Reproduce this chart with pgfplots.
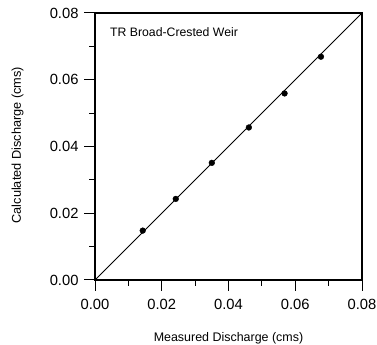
\documentclass[border=0pt]{standalone}
\usepackage{fontspec}
\setmainfont{Liberation Sans}
\usepackage{pgfplots}
\pgfplotsset{compat=1.18}
\begin{document}
\begin{tikzpicture}
\begin{axis}[
  width=267bp, height=267bp, scale only axis,
  xmin=0, xmax=0.08, ymin=0, ymax=0.08,
  xtick={0,0.02,0.04,0.06,0.08}, ytick={0,0.02,0.04,0.06,0.08},
  minor tick num=1,
  tick pos=left, tick align=outside,
  major tick length=11bp, minor tick length=6bp,
  axis line style={line width=1.1bp},
  every tick/.style={black, line width=1bp},
  /pgf/number format/assume math mode=true,
  /pgf/number format/.cd, fixed, fixed zerofill, precision=2, /pgfplots/.cd,
  scaled ticks=false,
  ticklabel style={font=\fontsize{14.8}{17}\selectfont},
  xticklabel style={yshift=-5bp},
  yticklabel style={xshift=-2bp},
  xlabel={Measured Discharge (cms)},
  ylabel={Calculated Discharge (cms)},
  xlabel style={font=\fontsize{12.5}{14}\selectfont, at={(axis description cs:0.5,-0.217)}, anchor=center},
  ylabel style={font=\fontsize{12.8}{14}\selectfont, at={(axis description cs:-0.290,0.505)}, anchor=center},
]
\addplot[black, line width=1bp, mark=none] coordinates {(0,0) (0.08,0.08)};
\addplot[only marks, mark=*, mark size=2.9pt, black] coordinates {
(0.0143,0.0148)
(0.0242,0.0243)
(0.0350,0.0351)
(0.0461,0.0457)
(0.0568,0.0559)
(0.0677,0.0669)
};
\node[anchor=west, font=\fontsize{12.3}{14}\selectfont, inner sep=0pt] at (axis description cs:0.056,0.929) {TR Broad-Crested Weir};
\end{axis}
\pgfresetboundingbox
\path[use as bounding box] ([shift={(-95bp,-65bp)}]current axis.south west) rectangle ([shift={(15bp,13bp)}]current axis.north east);
\end{tikzpicture}
\end{document}
